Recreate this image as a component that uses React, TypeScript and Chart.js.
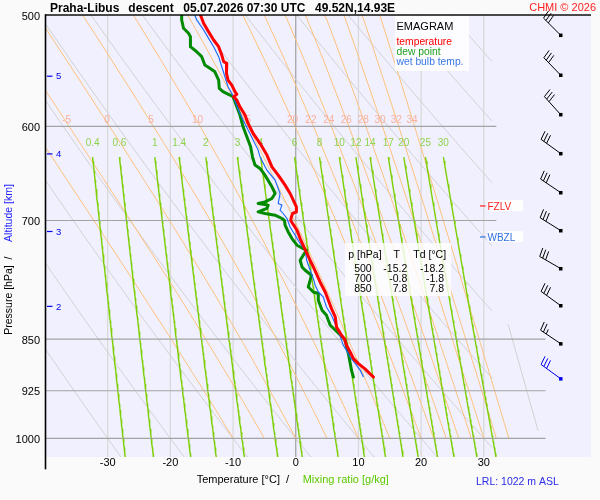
import { useEffect, useRef } from 'react';
import { Chart, registerables } from 'chart.js';

Chart.register(...registerables);

const FONT = '"Liberation Sans", Arial, Helvetica, sans-serif';

// ---------- Sounding data (pressure hPa / temperature °C) ----------
const TEMP_P = [500, 506.8, 513.9, 520.9, 526.6, 533.9, 539.7, 541.2, 547.2, 550.1, 556.2, 560.8, 566.9, 569.4, 571.6, 574.7, 581.1, 589.0, 597.1, 606.9, 616.9, 628.9, 641.1, 649.9, 660.6, 669.7, 677.1, 684.5, 690.2, 692.0, 695.9, 700, 703.4, 711.2, 721.0, 730.9, 738.9, 747.1, 755.3, 765.6, 776.1, 786.9, 797.6, 808.5, 819.7, 833.3, 844.7, 850, 858.7, 868.3, 877.7, 884.9, 892.2, 904.5];
const TEMP_T = [-15.2, -14.7, -13.9, -13.1, -12.3, -11.8, -11.5, -11.0, -11.0, -11.1, -10.8, -10.2, -9.7, -9.4, -9.9, -9.4, -8.9, -8.1, -7.6, -6.8, -5.7, -4.6, -3.8, -2.8, -1.7, -0.9, -0.4, 0.1, 0.1, -0.5, -0.7, -0.8, -0.5, 0.2, 0.7, 1.3, 1.8, 2.3, 2.8, 3.4, 4.0, 4.7, 5.2, 5.7, 6.3, 6.5, 7.3, 7.8, 8.1, 8.7, 9.2, 10.0, 11.0, 12.4];

const DEW_P = [500, 504.1, 511.0, 515.2, 518.1, 526.6, 531.0, 535.3, 542.7, 545.6, 548.7, 556.2, 563.8, 566.9, 570.0, 571.6, 581.1, 589.0, 600.4, 610.3, 620.4, 630.7, 639.3, 642.8, 649.9, 662.4, 669.7, 675.2, 679.0, 680.7, 682.6, 686.3, 690.2, 692.0, 693.9, 697.7, 700, 705.4, 713.2, 721.0, 728.9, 732.9, 734.9, 741.0, 747.1, 755.3, 759.4, 765.6, 771.9, 780.5, 786.9, 788.9, 797.6, 810.8, 817.4, 831.0, 850, 870.5, 884.9, 894.7, 904.5];
const DEW_T = [-18.2, -18.2, -17.9, -17.1, -16.8, -16.8, -15.8, -15.0, -14.5, -13.7, -12.9, -12.3, -12.2, -11.6, -10.5, -10.0, -9.4, -8.9, -8.4, -7.8, -7.2, -6.9, -6.5, -5.7, -4.9, -3.8, -3.3, -3.8, -4.9, -6.0, -4.4, -4.6, -6.0, -4.9, -3.3, -2.2, -1.8, -1.7, -1.2, -0.6, 0.2, 1.2, 1.7, 1.2, 0.7, 1.0, 1.5, 2.5, 2.3, 2.0, 2.8, 3.6, 3.6, 4.2, 4.9, 5.5, 7.8, 8.4, 8.7, 8.9, 9.2];

const WB_P = [500, 504.1, 512.4, 519.5, 526.6, 535.3, 544.2, 553.2, 562.3, 568.5, 571.6, 584.2, 593.8, 603.7, 613.6, 623.8, 630.7, 644.6, 655.2, 664.2, 669.7, 680.7, 682.6, 688.2, 692.0, 697.7, 707.4, 717.1, 726.9, 734.9, 747.1, 759.4, 769.8, 778.3, 786.9, 793.4, 806.4, 817.4, 837.8, 858.7, 875.4, 884.9, 894.7, 904.5];
const WB_T = [-16.1, -15.8, -14.7, -13.9, -13.1, -12.3, -11.8, -11.3, -10.8, -10.2, -9.95, -9.15, -8.4, -7.6, -6.8, -6.0, -5.7, -4.6, -3.3, -2.8, -2.5, -2.8, -2.2, -2.5, -2.0, -1.4, -0.9, -0.1, 0.7, 1.5, 1.75, 2.3, 2.8, 3.1, 3.6, 4.4, 4.9, 5.7, 6.75, 7.6, 8.7, 9.5, 10.3, 10.8];

// ---------- Axes / diagram reference values ----------
const P_TICKS = [500, 600, 700, 850, 925, 1000];
const T_TICKS = [-30, -20, -10, 0, 10, 20, 30];
const ISOTHERMS = [-30, -20, -10, 0, 10, 20, 30];
const ISOBARS_SHORT = [600, 700];
const ISOBARS_LONG = [850, 925, 1000];
const DRY_THETA = [-30, -20, -10, 0, 10, 20, 30, 40, 50, 60, 70, 80, 90];
const MOIST_THETAW = [-10, -5, 0, 5, 10, 15, 20, 22, 24, 26, 28, 30, 32, 34];
const MOIST_LABELS = [-5, 0, 5, 10, 15, 20, 22, 24, 26, 28, 30, 32, 34];
const MIX_RATIO = [0.4, 0.6, 1, 1.4, 2, 3, 4, 6, 8, 10, 12, 14, 17, 20, 25, 30];
const ALT_KM = [2, 3, 4, 5];
const ALT_P = [805.5, 712.6, 627.6, 552.6];

// ---------- Wind ----------
const WIND_P = [516.7, 551.6, 588.4, 627.2, 668.6, 711.5, 757.2, 804.5, 856.3, 906.8];
const WIND_DIR = [315, 316, 318, 306, 304, 302, 300, 306, 304, 306];
const WIND_KT = [30, 30, 30, 30, 30, 30, 30, 30, 25, 30];

// ---------- Levels / table ----------
const FZLV_P = 683.4;
const WBZL_P = 719.0;
const TABLE_P = ['500', '700', '850'];
const TABLE_T = ['-15.2', '-0.8', '7.8'];
const TABLE_TD = ['-18.2', '-1.8', '7.8'];

// ---------- Ranges ----------
const P_TOP = 500;
const P_BOTTOM = 1031;
const T_LEFT = -40;
const T_RIGHT = 47.1;
const DRY_T_MAX = 31.3;
const ISOBAR_SHORT_END = 32;
const ISOBAR_LONG_END = 39.85;
const MIX_P_TOP = 631;
const GREY_MOIST_TW = 39;
const GREY_MOIST_P = [831, 990];

type Pt = { x: number; y: number };

const zip = (ps: number[], ts: number[]): Pt[] => ps.map((p, i) => ({ x: ts[i], y: p }));

// ---------- Thermodynamics for the diagram background ----------
const KAPPA = 0.2857;
const esat = (tc: number) => 6.112 * Math.exp((17.67 * tc) / (tc + 243.5));
const dryT = (theta: number, p: number) => (theta + 273.15) * Math.pow(p / 1000, KAPPA) - 273.15;
const mixT = (w: number, p: number) => {
  const e = (w * p) / (622 + w);
  const l = Math.log(e / 6.112);
  return (243.5 * l) / (17.67 - l);
};
const moistDeriv = (tk: number, p: number) => {
  const e = esat(tk - 273.15);
  const ws = (0.622 * e) / (p - e);
  const lv = 2.501e6;
  return ((287.04 * tk + lv * ws) / p) / (1005.7 + (lv * lv * ws * 0.622) / (287.04 * tk * tk));
};
function moistCurve(tw: number, pEnd: number): Pt[] {
  const pts: Pt[] = [{ x: tw, y: 1000 }];
  let T = tw + 273.15;
  let p = 1000;
  const h = pEnd < 1000 ? -2 : 2;
  const n = Math.round(Math.abs(1000 - pEnd) / 2);
  for (let i = 1; i <= n; i++) {
    const k1 = moistDeriv(T, p);
    const k2 = moistDeriv(T + (h / 2) * k1, p + h / 2);
    const k3 = moistDeriv(T + (h / 2) * k2, p + h / 2);
    const k4 = moistDeriv(T + h * k3, p + h);
    T += (h / 6) * (k1 + 2 * k2 + 2 * k3 + k4);
    p += h;
    if (i % 3 === 0 || i === n) pts.push({ x: T - 273.15, y: p });
  }
  return pts;
}

const P_GRID: number[] = [];
for (let p = P_TOP; p < P_BOTTOM; p += 5) P_GRID.push(p);
P_GRID.push(P_BOTTOM);

function dryCurve(theta: number): Pt[] {
  const pts: Pt[] = [];
  for (const p of P_GRID) {
    const T = dryT(theta, p);
    if (T > DRY_T_MAX) {
      const pc = 1000 * Math.pow((DRY_T_MAX + 273.15) / (theta + 273.15), 1 / KAPPA);
      if (pc >= P_TOP) pts.push({ x: DRY_T_MAX, y: pc });
      break;
    }
    pts.push({ x: T, y: p });
  }
  return pts;
}

function mixCurve(w: number): Pt[] {
  const ps = [MIX_P_TOP, ...P_GRID.filter((p) => p > MIX_P_TOP)];
  return ps.map((p) => ({ x: mixT(w, p), y: p }));
}

const line = (data: Pt[], color: string, width: number, extra: Record<string, unknown> = {}) => ({
  data,
  showLine: true,
  borderColor: color,
  backgroundColor: color,
  borderWidth: width,
  pointRadius: 0,
  pointHoverRadius: 0,
  fill: false,
  tension: 0,
  ...extra,
});

function buildDatasets() {
  const ds: any[] = [];
  ds.push(line(zip(TEMP_P, TEMP_T), '#ff0000', 3, { borderJoinStyle: 'round', borderCapStyle: 'round' }));
  ds.push(line(zip(WB_P, WB_T), '#1866ff', 1.1));
  ds.push(line(zip(DEW_P, DEW_T), '#008a00', 3, { borderJoinStyle: 'round', borderCapStyle: 'round' }));
  // background lines
  for (const p of ISOBARS_SHORT) ds.push(line([{ x: T_LEFT, y: p }, { x: ISOBAR_SHORT_END, y: p }], '#a4a4a4', 1.2));
  for (const p of ISOBARS_LONG) ds.push(line([{ x: T_LEFT, y: p }, { x: ISOBAR_LONG_END, y: p }], '#a4a4a4', 1.2));
  for (const w of MIX_RATIO) ds.push(line(mixCurve(w), '#7ccf00', 1.4));
  for (const tw of MOIST_THETAW) ds.push(line(moistCurve(tw, P_TOP), '#ffc27a', 1));
  const g = moistCurve(GREY_MOIST_TW, GREY_MOIST_P[0]).filter((q) => q.y <= GREY_MOIST_P[1]);
  ds.push(line(g, '#d2d2d2', 1));
  for (const th of DRY_THETA) ds.push(line(dryCurve(th), '#d2d2d2', 1));
  for (const t of ISOTHERMS)
    ds.push(line([{ x: t, y: P_TOP }, { x: t, y: P_BOTTOM }], t === 0 ? '#a0a0a0' : '#d8d8d8', 1.2));
  return ds;
}

function txt(ctx: CanvasRenderingContext2D, s: string, x: number, y: number, font: string, color: string, align: CanvasTextAlign = 'left', base: CanvasTextBaseline = 'alphabetic') {
  ctx.font = font;
  ctx.fillStyle = color;
  ctx.textAlign = align;
  ctx.textBaseline = base;
  ctx.fillText(s, x, y);
}

function drawBarb(ctx: CanvasRenderingContext2D, x: number, y: number, dir: number, kt: number, color: string) {
  const a = (dir * Math.PI) / 180;
  const ux = Math.sin(a);
  const uy = -Math.cos(a);
  const L = 24;
  ctx.strokeStyle = color;
  ctx.fillStyle = color;
  ctx.lineWidth = 1;
  ctx.beginPath();
  ctx.moveTo(x, y);
  ctx.lineTo(x + ux * L, y + uy * L);
  const ang = Math.atan2(uy, ux) + (80 * Math.PI) / 180;
  const fx = Math.cos(ang);
  const fy = Math.sin(ang);
  let pos = L;
  const full = Math.floor(kt / 10);
  const half = kt % 10 >= 5;
  for (let i = 0; i < full; i++) {
    const sx = x + ux * pos;
    const sy = y + uy * pos;
    ctx.moveTo(sx, sy);
    ctx.lineTo(sx + fx * 9, sy + fy * 9);
    pos -= 3.4;
  }
  if (half) {
    const sx = x + ux * pos;
    const sy = y + uy * pos;
    ctx.moveTo(sx, sy);
    ctx.lineTo(sx + fx * 5, sy + fy * 5);
  }
  ctx.stroke();
  ctx.fillRect(x - 1.5, y - 1.5, 3.5, 3.5);
}

const emagramPlugin = {
  id: 'emagram',
  beforeDraw(chart: any) {
    const { ctx, chartArea: a } = chart;
    ctx.save();
    ctx.fillStyle = '#fafafa';
    ctx.fillRect(0, 0, chart.width, chart.height);
    ctx.fillStyle = '#f0f0ff';
    ctx.fillRect(a.left, a.top, a.right - a.left, a.bottom - a.top);
    ctx.restore();
  },
  beforeDatasetDraw(chart: any, args: any) {
    if (args.index !== 2) return;
    const { ctx } = chart;
    const xs = chart.scales.x;
    const ys = chart.scales.y;
    ctx.save();
    const y600 = ys.getPixelForValue(600);
    for (const tw of MOIST_LABELS) {
      const c = moistCurve(tw, 600);
      const t = c[c.length - 1].x;
      txt(ctx, String(tw), xs.getPixelForValue(t) - 2.5, y600 - 6, `10px ${FONT}`, '#f9b09c', 'center', 'middle');
    }
    const ym = ys.getPixelForValue(MIX_P_TOP);
    for (const w of MIX_RATIO) {
      txt(ctx, String(w), xs.getPixelForValue(mixT(w, MIX_P_TOP)), ym - 14, `10px ${FONT}`, '#8fd24c', 'center', 'middle');
    }
    ctx.restore();
  },
  afterDatasetsDraw(chart: any) {
    const { ctx, chartArea: a } = chart;
    const xs = chart.scales.x;
    const ys = chart.scales.y;
    ctx.save();

    // axis frame
    ctx.fillStyle = '#000';
    ctx.fillRect(a.left - 0.3, a.top - 0.7, 1.6, 470 - a.top);
    ctx.fillRect(a.left, a.top - 0.7, a.right - a.left, 1.4);

    // pressure labels
    for (const p of P_TICKS) txt(ctx, String(p), a.left - 5, ys.getPixelForValue(p) + 4.5, `11px ${FONT}`, '#000', 'right');
    // temperature labels
    for (const t of T_TICKS) txt(ctx, String(t), xs.getPixelForValue(t), 466, `11px ${FONT}`, '#000', 'center');

    // altitude ticks
    for (let i = 0; i < ALT_KM.length; i++) {
      const y = ys.getPixelForValue(ALT_P[i]);
      ctx.fillStyle = '#0000ee';
      ctx.fillRect(a.left + 2, y - 0.5, 5.5, 1.2);
      txt(ctx, String(ALT_KM[i]), a.left + 11, y + 3.3, `9.5px ${FONT}`, '#0000ee', 'left');
    }

    // title
    const tf = `bold 12px ${FONT}`;
    txt(ctx, 'Praha-Libus', 50, 12, tf, '#000');
    txt(ctx, 'descent', 128.3, 12, tf, '#000');
    txt(ctx, '05.07.2026 07:30 UTC', 183.3, 12, tf, '#000');
    txt(ctx, '49.52N,14.93E', 315, 12, tf, '#000');
    txt(ctx, 'CHMI © 2026', 596, 11, `11px ${FONT}`, '#ff2020', 'right');

    // axis titles
    txt(ctx, 'Temperature [°C]', 196.7, 483, `11px ${FONT}`, '#000');
    txt(ctx, '/', 287.5, 483, `11px ${FONT}`, '#000', 'center');
    txt(ctx, 'Mixing ratio [g/kg]', 302.7, 483, `11px ${FONT}`, '#5cc800');
    txt(ctx, 'LRL: 1022 m ASL', 476, 485, `10.5px ${FONT}`, '#2a2ae6');

    ctx.save();
    ctx.translate(11.6, 0);
    ctx.rotate(-Math.PI / 2);
    txt(ctx, 'Pressure [hPa]', -300, 0, `10.5px ${FONT}`, '#000', 'center');
    txt(ctx, '/', -258, 0, `10.5px ${FONT}`, '#000', 'center');
    txt(ctx, 'Altitude [km]', -213, 0, `10.5px ${FONT}`, '#1a1aff', 'center');
    ctx.restore();

    // legend box
    ctx.fillStyle = 'rgba(255,255,255,0.85)';
    ctx.fillRect(395, 16, 74, 55);
    txt(ctx, 'EMAGRAM', 396.5, 30, `11px ${FONT}`, '#000');
    txt(ctx, 'temperature', 396.5, 45, `10.3px ${FONT}`, '#ff0000');
    txt(ctx, 'dew point', 396.5, 54.7, `10.3px ${FONT}`, '#1e9e1e');
    txt(ctx, 'wet bulb temp.', 396.5, 64.5, `10.3px ${FONT}`, '#3a78e8');

    // table box
    ctx.fillStyle = 'rgba(255,255,255,0.8)';
    ctx.fillRect(345, 243, 106, 53);
    const tbf = `10.5px ${FONT}`;
    txt(ctx, 'p [hPa]', 348.3, 257.5, tbf, '#000');
    txt(ctx, 'T', 396.7, 257.5, tbf, '#000', 'center');
    txt(ctx, 'Td [°C]', 413.3, 257.5, tbf, '#000');
    for (let i = 0; i < TABLE_P.length; i++) {
      const y = 271.7 + i * 10;
      txt(ctx, TABLE_P[i], 371.7, y, tbf, '#000', 'right');
      txt(ctx, TABLE_T[i], 407.3, y, tbf, '#000', 'right');
      txt(ctx, TABLE_TD[i], 444, y, tbf, '#000', 'right');
    }

    // FZLV / WBZL
    const lv = [
      { p: FZLV_P, s: 'FZLV', c: '#ff2020' },
      { p: WBZL_P, s: 'WBZL', c: '#3070e0' },
    ];
    for (const l of lv) {
      const y = ys.getPixelForValue(l.p);
      ctx.fillStyle = 'rgba(255,255,255,0.92)';
      ctx.fillRect(487.5, y - 5.7, 35.5, 11);
      ctx.fillStyle = l.c;
      ctx.fillRect(480, y - 0.5, 5.5, 1.2);
      txt(ctx, l.s, 487.5, y + 3.8, `10px ${FONT}`, l.c);
    }

    // wind barbs
    for (let i = 0; i < WIND_P.length; i++) {
      const y = ys.getPixelForValue(WIND_P[i]);
      drawBarb(ctx, a.right - 30.5, y, WIND_DIR[i], WIND_KT[i], i === WIND_P.length - 1 ? '#0000ee' : '#000');
    }
    ctx.restore();
  },
};

export default function App() {
  const ref = useRef<HTMLCanvasElement>(null);
  useEffect(() => {
    if (!ref.current) return;
    const chart = new Chart(ref.current, {
      type: 'scatter',
      data: { datasets: buildDatasets() },
      options: {
        animation: false,
        responsive: false,
        devicePixelRatio: 1,
        events: [],
        layout: { padding: { left: 45, right: 9, top: 15, bottom: 43 } },
        plugins: { legend: { display: false }, tooltip: { enabled: false } },
        scales: {
          x: { type: 'linear', min: T_LEFT, max: T_RIGHT, display: false },
          y: { type: 'logarithmic', min: P_TOP, max: P_BOTTOM, reverse: true, display: false },
        },
      },
      plugins: [emagramPlugin],
    } as any);
    return () => chart.destroy();
  }, []);
  return (
    <div style={{ position: 'absolute', left: 0, top: 0, width: 600, height: 500 }}>
      <canvas ref={ref} width={600} height={500} style={{ width: 600, height: 500, display: 'block' }} />
    </div>
  );
}
